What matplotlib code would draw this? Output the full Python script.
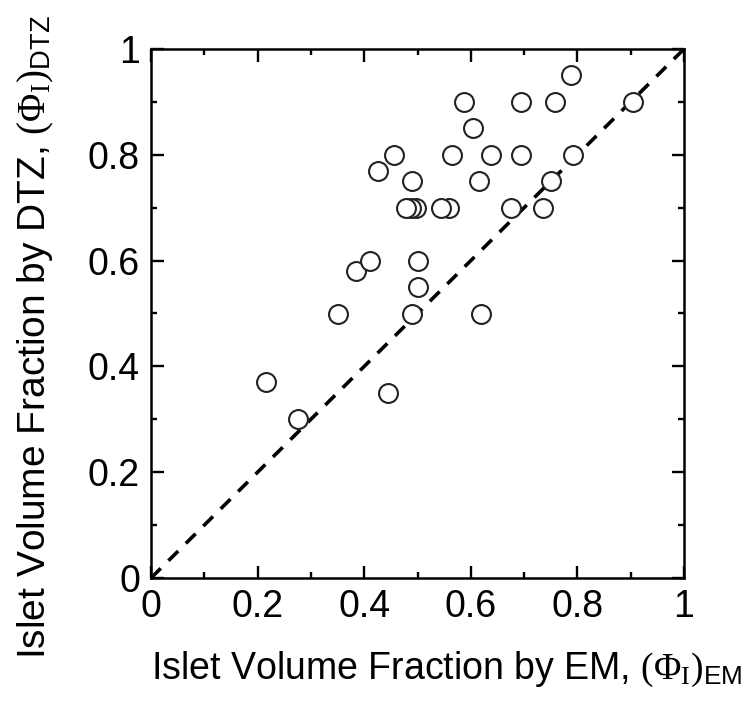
import matplotlib
matplotlib.use('Agg')
import matplotlib.pyplot as plt
import numpy as np

plt.rcParams['font.family'] = ['Liberation Sans', 'DejaVu Sans']
plt.rcParams['mathtext.fontset'] = 'custom'
plt.rcParams['mathtext.rm'] = 'Liberation Serif'
plt.rcParams['mathtext.it'] = 'Liberation Serif:italic'
plt.rcParams['mathtext.sf'] = 'Liberation Sans'

# islet volume fraction, EM (x) vs DTZ (y)
phi_em = [0.215, 0.275, 0.35, 0.385, 0.41, 0.425, 0.445, 0.455, 0.497, 0.488, 0.478,
          0.49, 0.49, 0.50, 0.50, 0.56, 0.545, 0.565, 0.588, 0.605, 0.615, 0.62,
          0.638, 0.675, 0.695, 0.695, 0.735, 0.75, 0.758, 0.788, 0.791, 0.905]
phi_dtz = [0.37, 0.30, 0.50, 0.58, 0.60, 0.77, 0.35, 0.80, 0.70, 0.70, 0.70,
           0.75, 0.50, 0.55, 0.60, 0.70, 0.70, 0.80, 0.90, 0.85, 0.75, 0.50,
           0.80, 0.70, 0.90, 0.80, 0.70, 0.75, 0.90, 0.95, 0.80, 0.90]

# identity line
diag = [0, 1]

ticks = [0, 0.2, 0.4, 0.6, 0.8, 1.0]
tick_labels = ['0', '0.2', '0.4', '0.6', '0.8', '1']

fig = plt.figure(figsize=(7.47, 7.11), dpi=100)
ax = fig.add_axes([151 / 747, 133 / 711, 533 / 747, 529 / 711])

ax.plot(diag, diag, color='black', lw=2.6, dashes=(3.8, 3.0), zorder=2)
ax.plot(phi_em, phi_dtz, 'o', ms=13.6, mfc='white', mec='#222222', mew=1.5,
        linestyle='none', zorder=3)

ax.set_xlim(0, 1)
ax.set_ylim(0, 1)
ax.set_xticks(ticks)
ax.set_xticklabels(tick_labels)
ax.set_yticks(ticks)
ax.set_yticklabels(tick_labels)
ax.set_xticks(np.arange(0.1, 1.0, 0.2), minor=True)
ax.set_yticks(np.arange(0.1, 1.0, 0.2), minor=True)

ax.tick_params(which='both', direction='in', top=True, right=True, width=1.7,
               labelsize=27, pad=8)
ax.tick_params(which='major', length=9)
ax.tick_params(which='minor', length=4.5)
for s in ax.spines.values():
    s.set_linewidth(1.8)

ax.set_xlabel(r'Islet Volume Fraction by EM, $(\Phi_{\mathrm{I}})_{\mathsf{EM}}$',
              fontsize=27, ha='left', va='top')
ax.xaxis.set_label_coords(0.0, -0.135)
ax.set_ylabel(r'Islet Volume Fraction by DTZ, $(\Phi_{\mathrm{I}})_{\mathsf{DTZ}}$',
              fontsize=28, va='center', ha='center')
ax.yaxis.set_label_coords(-0.215, 0.455)

fig.savefig('out.png', dpi=100)
